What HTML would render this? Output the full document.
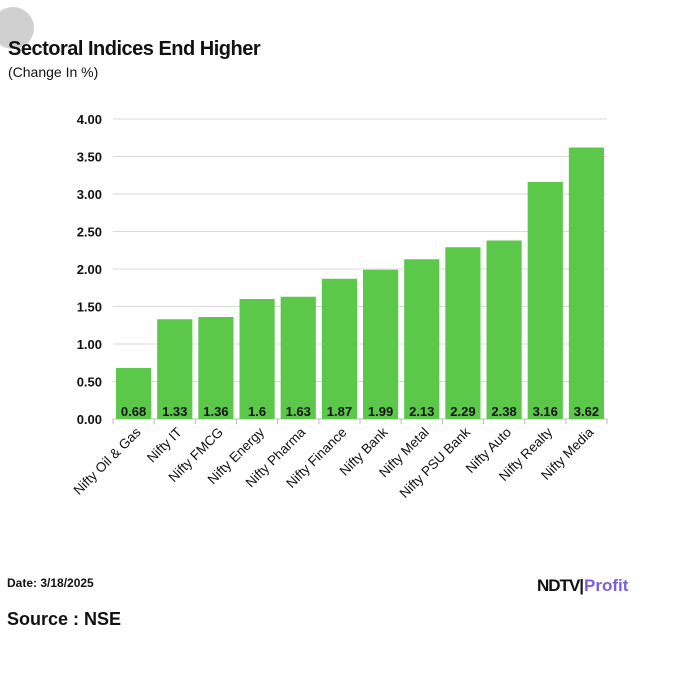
<!DOCTYPE html>
<html><head><meta charset="utf-8"><style>
body{margin:0;background:#fff;width:675px;height:675px;overflow:hidden;position:relative;font-family:"Liberation Sans",Arial,sans-serif}
.abs{position:absolute}
</style></head><body>
<div class="abs" style="left:-8px;top:7px;width:42px;height:42px;border-radius:50%;background:#d0d0d0"></div>
<div class="abs" style="left:8px;top:38px;font-size:20px;font-weight:bold;color:#111;letter-spacing:-0.5px">Sectoral Indices End Higher</div>
<div class="abs" style="left:8px;top:64px;font-size:14px;color:#111">(Change In %)</div>
<svg class="abs" style="left:0;top:0" width="675" height="675">
<g id="grid"></g><g id="bars"></g><g id="labels"></g>
</svg>
<div class="abs" style="left:7px;top:576px;font-size:12px;font-weight:bold;color:#111">Date: 3/18/2025</div>
<div class="abs" style="left:7px;top:609px;font-size:18px;font-weight:bold;color:#111">Source : NSE</div>
<div class="abs" style="left:537px;top:576px;font-size:17px;font-weight:900;white-space:nowrap"><span style="color:#111;letter-spacing:-1px">NDTV</span><span style="color:#111">|</span><span style="color:#7b5fe0">Profit</span></div>
<script>
const categories=["Nifty Oil & Gas","Nifty IT","Nifty FMCG","Nifty Energy","Nifty Pharma","Nifty Finance","Nifty Bank","Nifty Metal","Nifty PSU Bank","Nifty Auto","Nifty Realty","Nifty Media"];
const values=[0.68,1.33,1.36,1.6,1.63,1.87,1.99,2.13,2.29,2.38,3.16,3.62];
const valueLabels=["0.68","1.33","1.36","1.6","1.63","1.87","1.99","2.13","2.29","2.38","3.16","3.62"];
const ticks=[0,0.5,1,1.5,2,2.5,3,3.5,4];
const tickLabels=["0.00","0.50","1.00","1.50","2.00","2.50","3.00","3.50","4.00"];
const NS="http://www.w3.org/2000/svg";
const x0=113,x1=607,y0=419,yTop=119,yMax=4;
const slot=(x1-x0)/categories.length;
const y=v=>y0-(v/yMax)*(y0-yTop);
const xs=i=>x0+i*slot;
function mk(t,a,p){const e=document.createElementNS(NS,t);for(const k in a)e.setAttribute(k,a[k]);p.appendChild(e);return e;}
const G=document.getElementById('grid'),B=document.getElementById('bars'),L=document.getElementById('labels');
ticks.forEach((t,i)=>{
 const l=mk('line',{x1:x0,x2:x1,y1:y(t),y2:y(t),stroke:i==0?'#bbb':'#d9d9d9','stroke-width':1},G);
 
 
 const tx=mk('text',{x:102,y:y(t)+5,'text-anchor':'end','font-size':13,'font-weight':'bold',fill:'#111','font-family':'Liberation Sans'},G);
 tx.textContent=tickLabels[i];
 
 
});
for(let i=0;i<=categories.length;i++){
 const t=mk('line',{x1:xs(i),x2:xs(i),y1:y0,y2:y0+5,stroke:'#bbb'},G);
 
 
}
categories.forEach((c,i)=>{
 const bx=xs(i)+3,bw=slot-6;
 const r=mk('rect',{x:bx,y:y(values[i]),width:bw,height:y0-y(values[i]),fill:'#5cc84a'},B);
 
 
 const v=mk('text',{x:bx+bw/2,y:y0-3,'text-anchor':'middle','font-size':13,'font-weight':'bold',fill:'#111','font-family':'Liberation Sans'},L);
 v.textContent=valueLabels[i];
 
 
 const cx=xs(i)+slot/2+8,cy=y0+14;
 const lb=mk('text',{x:cx,y:cy,'text-anchor':'end','font-size':13.5,fill:'#111','font-family':'Liberation Sans',transform:`rotate(-45 ${cx} ${cy})`},L);
 lb.textContent=c;
 
 
});
</script>
</body></html>
